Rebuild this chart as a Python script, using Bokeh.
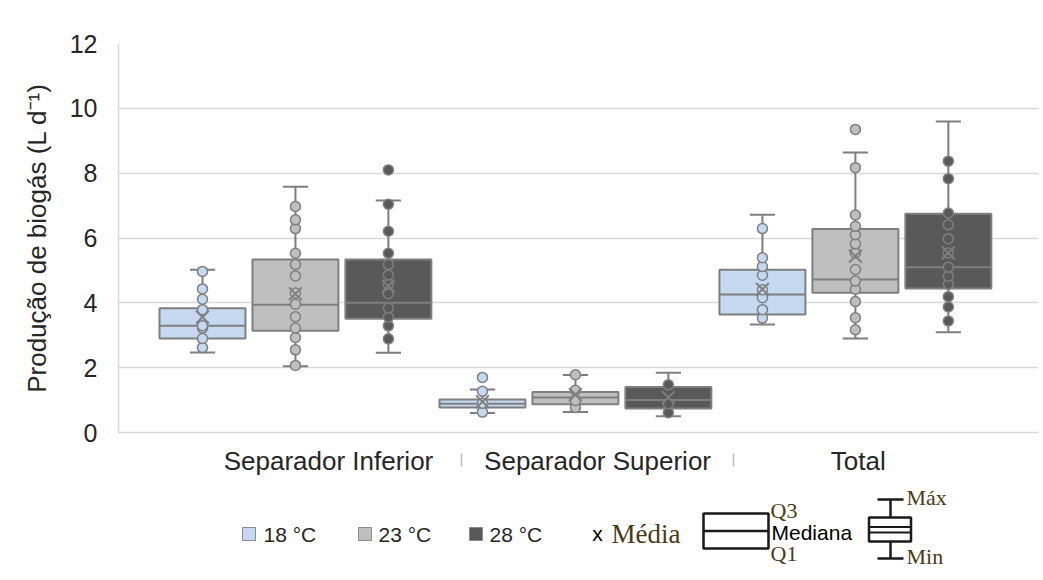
from bokeh.plotting import figure
from bokeh.layouts import column
from bokeh.models import Range1d, FixedTicker, ColumnDataSource
from bokeh.embed import file_html
from bokeh.resources import INLINE
from bokeh.core.properties import value

# ---------------- data ----------------
categories = ["Separador Inferior", "Separador Superior", "Total"]
series = ["18 °C", "23 °C", "28 °C"]
colors = ["#C5D9F1", "#BFBFBF", "#595959"]
y_ticks = [0, 2, 4, 6, 8, 10, 12]

# statistics, one row per series, one value per category
whisker_min = [[2.47, 0.60, 3.33], [2.04, 0.63, 2.90], [2.46, 0.50, 3.09]]
q1 = [[2.90, 0.77, 3.64], [3.14, 0.87, 4.31], [3.51, 0.74, 4.44]]
median = [[3.29, 0.89, 4.26], [3.94, 1.08, 4.72], [4.00, 1.00, 5.10]]
q3 = [[3.83, 1.02, 5.02], [5.34, 1.25, 6.28], [5.34, 1.40, 6.75]]
whisker_max = [[5.02, 1.33, 6.72], [7.58, 1.77, 8.64], [7.16, 1.84, 9.59]]
mean = [[3.56, 0.95, 4.42], [4.28, 1.17, 5.44], [4.52, 1.08, 5.54]]

# individual observations shown as points (inner points and outliers)
points_18 = [
    [2.62, 2.90, 3.22, 3.29, 3.79, 4.11, 4.43, 4.97],
    [0.63, 0.90, 1.27, 1.70],
    [3.53, 3.79, 4.16, 4.40, 4.85, 5.12, 5.39, 6.29],
]
points_23 = [
    [2.07, 2.55, 2.93, 3.22, 3.57, 3.96, 4.30, 4.83, 5.18, 5.53, 6.29, 6.56, 6.97],
    [0.77, 0.99, 1.30, 1.78],
    [3.17, 3.54, 4.04, 4.42, 4.67, 5.03, 5.54, 5.82, 6.10, 6.36, 6.71, 8.17, 9.35],
]
points_28 = [
    [2.89, 3.29, 3.56, 3.84, 4.28, 4.57, 4.86, 5.18, 5.53, 6.21, 7.04, 8.10],
    [0.61, 0.89, 1.47],
    [3.44, 3.87, 4.19, 4.57, 4.82, 5.10, 5.54, 5.98, 6.41, 6.77, 7.83, 8.37],
]
points = [points_18, points_23, points_28]

# ---------------- layout constants ----------------
DODGE = 0.332
BOX_W = 0.307
CAP_HW = 0.045
label_pos = [0.118, 1.079, 2.01]
sep_pos = [0.593, 1.564]
GRAY = "#7F7F7F"
TXT = "#262626"
OLIVE = "#4A3C14"
SANS = "Liberation Sans"
SERIF = "Liberation Serif"

p = figure(width=1043, height=478, x_range=Range1d(-0.632, 2.654), y_range=Range1d(0, 12),
           output_backend="svg", toolbar_location=None,
           min_border_left=118, min_border_right=5, min_border_top=43, min_border_bottom=45)
p.outline_line_color = None
p.background_fill_color = "white"
p.border_fill_color = "white"
p.xgrid.visible = False
p.ygrid.grid_line_color = "#D9D9D9"
p.ygrid.grid_line_width = 1.5

p.yaxis.ticker = FixedTicker(ticks=y_ticks)
p.yaxis.axis_line_color = "#D9D9D9"
p.yaxis.axis_line_width = 1.5
p.yaxis.major_tick_line_color = None
p.yaxis.minor_tick_line_color = None
p.yaxis.major_label_text_font = SANS
p.yaxis.major_label_text_font_size = "25px"
p.yaxis.major_label_text_color = TXT
p.yaxis.major_label_standoff = 15
p.yaxis.axis_label = "Produção de biogás (L d⁻¹)"
p.yaxis.axis_label_text_font = SANS
p.yaxis.axis_label_text_font_size = "26px"
p.yaxis.axis_label_text_font_style = "normal"
p.yaxis.axis_label_text_color = TXT
p.yaxis.axis_label_standoff = 15

p.xaxis.ticker = FixedTicker(ticks=label_pos, minor_ticks=sep_pos)
p.xaxis.major_label_overrides = {pos: name for pos, name in zip(label_pos, categories)}
p.xaxis.axis_line_color = "#D9D9D9"
p.xaxis.axis_line_width = 1.5
p.xaxis.major_tick_line_color = None
p.xaxis.major_tick_out = 0
p.xaxis.major_tick_in = 0
p.xaxis.minor_tick_line_color = "#BFBFBF"
p.xaxis.minor_tick_line_width = 1.5
p.xaxis.minor_tick_in = -21
p.xaxis.minor_tick_out = 34
p.xaxis.major_label_text_font = SANS
p.xaxis.major_label_text_font_size = "26px"
p.xaxis.major_label_text_color = TXT
p.xaxis.major_label_standoff = -21

for s in range(3):
    xs = [g + (s - 1) * DODGE for g in range(3)]
    src = ColumnDataSource(dict(
        x=xs,
        left=[x - BOX_W / 2 for x in xs],
        right=[x + BOX_W / 2 for x in xs],
        cl=[x - CAP_HW for x in xs],
        cr=[x + CAP_HW for x in xs],
        wmin=whisker_min[s], q1=q1[s], med=median[s], q3=q3[s], wmax=whisker_max[s],
        mean=mean[s],
    ))
    p.segment(x0="x", y0="q3", x1="x", y1="wmax", source=src, line_color=GRAY, line_width=2)
    p.segment(x0="x", y0="q1", x1="x", y1="wmin", source=src, line_color=GRAY, line_width=2)
    p.segment(x0="cl", y0="wmax", x1="cr", y1="wmax", source=src, line_color=GRAY, line_width=2)
    p.segment(x0="cl", y0="wmin", x1="cr", y1="wmin", source=src, line_color=GRAY, line_width=2)
    p.quad(left="left", right="right", bottom="q1", top="q3", source=src,
           fill_color=colors[s], line_color=GRAY, line_width=2)
    p.segment(x0="left", y0="med", x1="right", y1="med", source=src, line_color=GRAY, line_width=2)

    px, py = [], []
    for g in range(3):
        for v in points[s][g]:
            px.append(xs[g])
            py.append(v)
    p.scatter(px, py, marker="circle", size=10, fill_color=colors[s], line_color=GRAY, line_width=1.5)
    p.scatter(x="x", y="mean", source=src, marker="x", size=18, line_color=GRAY, line_width=2)

# ---------------- legend panel ----------------
lg = figure(width=1043, height=102, x_range=Range1d(118, 1038), y_range=Range1d(580, 478),
            output_backend="svg", toolbar_location=None,
            min_border_left=118, min_border_right=5, min_border_top=0, min_border_bottom=0,
            x_axis_type=None, y_axis_type=None)
lg.outline_line_color = None
lg.xgrid.visible = False
lg.ygrid.visible = False
lg.background_fill_color = "white"
lg.border_fill_color = "white"

lg.rect(x=[248.5, 364.5, 475.5], y=[533.5] * 3, width=13, height=13,
        fill_color=colors, line_color="#8C8C8C", line_width=1)
lg.text(x=[263, 378, 489], y=[534] * 3, text=series, text_baseline="middle", text_align="left",
        text_font=value(SANS), text_font_size=value("21px"), text_color=TXT)
lg.text(x=[597], y=[533], text=["x"], text_baseline="middle", text_align="center",
        text_font=value(SANS), text_font_size=value("21px"), text_color="#000000")
lg.text(x=[611], y=[533], text=["Média"], text_baseline="middle", text_align="left",
        text_font=value(SERIF), text_font_size=value("27px"), text_color=OLIVE)

# box icon (Q1 / median / Q3)
lg.rect(x=[735.5], y=[530.5], width=65, height=35, fill_color=None, line_color="#1A1A1A", line_width=2.5)
lg.segment(x0=[703], y0=[530.5], x1=[768], y1=[530.5], line_color="#1A1A1A", line_width=2.5)
lg.text(x=[770], y=[510], text=["Q3"], text_baseline="middle", text_align="left",
        text_font=value(SERIF), text_font_size=value("22px"), text_color=OLIVE)
lg.text(x=[771], y=[532], text=["Mediana"], text_baseline="middle", text_align="left",
        text_font=value(SANS), text_font_size=value("21px"), text_color="#000000")
lg.text(x=[770], y=[553], text=["Q1"], text_baseline="middle", text_align="left",
        text_font=value(SERIF), text_font_size=value("22px"), text_color=OLIVE)

# whisker icon (Min / Max)
lg.segment(x0=[877, 890, 890, 877], y0=[499, 499, 541, 558], x1=[903, 890, 890, 903], y1=[499, 517, 558, 558],
           line_color="#1A1A1A", line_width=2.5)
lg.rect(x=[889.5], y=[529], width=42, height=24, fill_color=None, line_color="#1A1A1A", line_width=2.5)
lg.segment(x0=[868, 868], y0=[526.5, 532], x1=[911, 911], y1=[526.5, 532], line_color="#1A1A1A", line_width=2)
lg.text(x=[906], y=[497], text=["Máx"], text_baseline="middle", text_align="left",
        text_font=value(SERIF), text_font_size=value("22px"), text_color=OLIVE)
lg.text(x=[906], y=[556], text=["Min"], text_baseline="middle", text_align="left",
        text_font=value(SERIF), text_font_size=value("22px"), text_color=OLIVE)

layout = column(p, lg, spacing=0)
open("out.html", "w").write(file_html(layout, INLINE))
